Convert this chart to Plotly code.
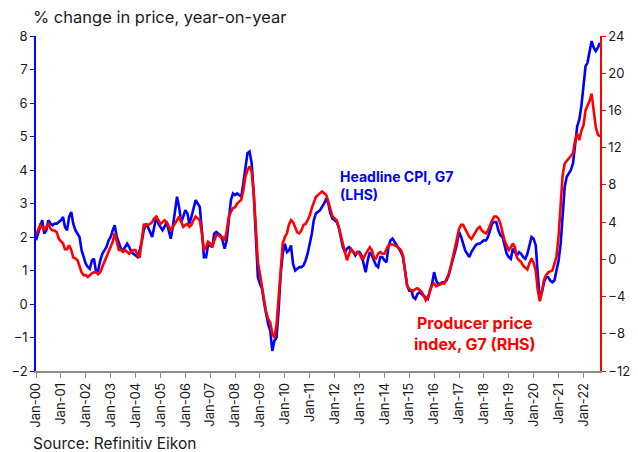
import pandas as pd
import plotly.graph_objects as go

# Monthly, Jan-2000 .. Sep-2022
dates = pd.date_range("2000-01-01", periods=273, freq="MS")

# Headline CPI, G7 (% y/y, LHS)
cpi = [
    1.9, 2.1, 2.3, 2.5, 2.1, 2.2, 2.5, 2.4, 2.35, 2.4, 2.4, 2.45,      # 2000
    2.5, 2.6, 2.3, 2.2, 2.6, 2.75, 2.4, 2.2, 2.1, 2.0, 1.6, 1.4,       # 2001
    1.2, 1.1, 1.05, 1.3, 1.35, 0.95, 1.0, 1.3, 1.5, 1.6, 1.7, 1.9,     # 2002
    2.0, 2.2, 2.35, 2.0, 1.8, 1.65, 1.6, 1.7, 1.8, 1.7, 1.55, 1.5,     # 2003
    1.45, 1.4, 1.6, 1.85, 2.2, 2.4, 2.3, 2.15, 2.0, 2.3, 2.6, 2.4,     # 2004
    2.3, 2.2, 2.3, 2.45, 2.2, 1.95, 2.3, 2.7, 3.2, 2.9, 2.45, 2.6,     # 2005
    2.8, 2.7, 2.4, 2.6, 2.9, 3.1, 3.0, 2.9, 2.2, 1.4, 1.4, 1.75,       # 2006
    1.75, 1.7, 2.1, 2.15, 2.1, 2.05, 1.9, 1.65, 1.9, 2.4, 3.1, 3.3,    # 2007
    3.25, 3.3, 3.25, 3.2, 3.6, 4.1, 4.5, 4.55, 4.2, 3.3, 1.9, 0.8,     # 2008
    0.6, 0.45, 0.05, -0.3, -0.6, -0.8, -1.4, -1.1, -1.0, -0.2, 0.9, 1.5,  # 2009
    1.8, 1.55, 1.6, 1.75, 1.2, 1.0, 1.05, 1.1, 1.1, 1.15, 1.3, 1.5,    # 2010
    1.8, 2.1, 2.5, 2.7, 2.75, 2.8, 2.9, 3.0, 3.15, 3.0, 2.7, 2.55,     # 2011
    2.5, 2.45, 2.3, 2.0, 1.7, 1.55, 1.65, 1.7, 1.6, 1.55, 1.45, 1.55,  # 2012
    1.55, 1.45, 1.2, 0.95, 1.3, 1.55, 1.45, 1.3, 1.15, 1.1, 1.4, 1.4,  # 2013
    1.3, 1.25, 1.7, 1.9, 1.95, 1.85, 1.75, 1.65, 1.55, 1.4, 1.0, 0.55, # 2014
    0.4, 0.4, 0.2, 0.15, 0.3, 0.35, 0.3, 0.25, 0.2, 0.15, 0.4, 0.6,    # 2015
    0.95, 0.7, 0.6, 0.6, 0.65, 0.65, 0.7, 0.85, 1.1, 1.3, 1.55, 1.8,   # 2016
    2.15, 2.0, 1.8, 1.6, 1.5, 1.4, 1.55, 1.65, 1.75, 1.8, 1.8, 1.85,   # 2017
    1.9, 1.9, 2.0, 2.2, 2.4, 2.45, 2.45, 2.2, 2.05, 2.0, 1.7, 1.5,     # 2018
    1.4, 1.35, 1.65, 1.55, 1.45, 1.55, 1.5, 1.4, 1.35, 1.5, 1.75, 2.0, # 2019
    1.95, 1.75, 0.9, 0.15, 0.35, 0.65, 0.8, 0.8, 0.7, 0.65, 0.7, 1.0,  # 2020
    1.3, 1.8, 2.7, 3.5, 3.8, 3.9, 4.0, 4.2, 4.8, 5.3, 5.5, 5.9,        # 2021
    6.5, 7.1, 7.2, 7.5, 7.85, 7.65, 7.55, 7.65, 7.8,                   # 2022
]

# Producer price index, G7 (% y/y, RHS)
ppi = [
    2.6, 3.1, 3.7, 3.5, 3.1, 3.5, 3.8, 3.3, 3.1, 3.1, 2.9, 2.2,        # 2000
    2.0, 1.7, 1.1, 1.1, 1.5, 1.0, 0.2, 0.1, -0.1, -0.8, -1.4, -1.7,    # 2001
    -1.7, -1.9, -1.7, -1.5, -1.4, -1.4, -1.6, -1.4, -0.8, -0.3, 0.2, 0.8,  # 2002
    1.3, 1.9, 2.8, 1.9, 1.0, 1.0, 0.8, 1.0, 0.8, 0.6, 0.8, 1.0,        # 2003
    1.0, 0.4, 0.2, 2.0, 3.7, 3.7, 3.7, 3.8, 4.0, 4.4, 4.6, 4.2,        # 2004
    3.8, 4.0, 4.2, 4.0, 3.5, 3.1, 3.5, 3.8, 4.2, 4.6, 4.0, 3.5,        # 2005
    3.7, 3.8, 3.5, 3.7, 4.2, 4.6, 4.4, 4.2, 2.8, 1.0, 1.3, 1.9,        # 2006
    1.7, 1.3, 2.0, 2.6, 2.6, 2.4, 2.4, 2.0, 3.1, 4.6, 5.1, 5.5,        # 2007
    5.6, 6.0, 6.2, 6.4, 7.4, 8.9, 9.6, 10.0, 9.4, 7.1, 3.5, -0.3,      # 2008
    -1.6, -3.0, -4.4, -5.7, -6.4, -6.8, -8.0, -8.4, -7.0, -4.4, -0.8, 1.7,  # 2009
    2.4, 2.8, 3.7, 4.2, 4.0, 3.5, 2.9, 2.8, 3.1, 3.7, 3.8, 4.2,        # 2010
    4.7, 5.5, 6.2, 6.7, 6.9, 7.1, 7.3, 7.1, 6.9, 6.2, 5.3, 4.6,        # 2011
    4.4, 4.2, 3.5, 2.6, 1.9, 0.8, -0.1, 0.6, 1.1, 0.8, 0.6, 0.8,       # 2012
    0.6, 0.1, 0.1, 0.6, 1.0, 1.3, 1.0, 0.2, 0.1, 0.6, 0.8, 0.6,        # 2013
    0.6, 1.0, 1.5, 1.6, 1.6, 1.5, 1.4, 1.2, 1.0, 0.4, -1.2, -2.8,      # 2014
    -3.2, -3.3, -3.4, -3.2, -3.1, -3.3, -3.5, -3.9, -4.4, -4.1, -3.5, -2.8,  # 2015
    -2.6, -2.9, -2.8, -2.7, -2.6, -2.6, -2.1, -1.6, -0.8, 0.1, 1.0, 2.2,     # 2016
    3.3, 3.7, 3.7, 3.3, 2.8, 2.4, 2.2, 2.6, 2.9, 3.3, 3.5, 3.1,        # 2017
    2.9, 2.8, 3.1, 3.7, 4.2, 4.6, 4.6, 4.4, 3.8, 2.9, 2.0, 1.5,        # 2018
    1.0, 1.3, 1.7, 1.3, 0.2, -0.1, -0.3, -0.7, -0.9, -1.1, -0.4, 0.1,  # 2019
    -0.4, -1.2, -3.3, -4.5, -3.5, -2.2, -1.7, -1.4, -1.3, -1.2, -0.5, 0.3,  # 2020
    2.5, 5.5, 9.0, 10.3, 10.6, 10.8, 11.1, 11.4, 12.8, 13.5, 12.8, 13.8,    # 2021
    14.4, 16.0, 16.5, 17.0, 17.8, 16.2, 14.2, 13.4, 13.2,              # 2022
]

tick_years = list(range(2000, 2023))
tick_vals = [f"{y}-01-01" for y in tick_years]
tick_text = [f"Jan-{y % 100:02d}" for y in tick_years]

FONT = "Inter"
TXT = "#1a1a1a"

fig = go.Figure()
fig.add_trace(go.Scatter(x=dates, y=cpi, mode="lines", name="Headline CPI, G7 (LHS)",
                         line=dict(color="#0000FF", width=2.6), yaxis="y"))
fig.add_trace(go.Scatter(x=dates, y=ppi, mode="lines", name="Producer price index, G7 (RHS)",
                         line=dict(color="#FF0000", width=2.6), yaxis="y2"))

fig.update_layout(
    width=638, height=452,
    margin=dict(l=36, r=38, t=36, b=81, autoexpand=False),
    paper_bgcolor="white", plot_bgcolor="white",
    showlegend=False,
    font=dict(family=FONT, size=13, color=TXT),
    xaxis=dict(
        type="date", range=["2000-01-01", dates[-1]], automargin=False,
        tickmode="array", tickvals=tick_vals, ticktext=tick_text,
        tickangle=-90, showgrid=False, zeroline=False,
        showline=True, linecolor="#8c8c8c", linewidth=1.5,
        ticks="outside", tickcolor="#8c8c8c", ticklen=5, tickwidth=1,
        tickfont=dict(family=FONT, size=13, color=TXT),
    ),
    yaxis=dict(
        range=[-2, 8], dtick=1, showgrid=False, zeroline=False, automargin=False,
        showline=True, linecolor="#0000FF", linewidth=1.5,
        ticks="outside", tickcolor="#0000FF", ticklen=4, tickwidth=1,
        tickfont=dict(family=FONT, size=13, color=TXT),
    ),
    yaxis2=dict(
        range=[-12, 24], dtick=4, overlaying="y", side="right", automargin=False,
        showgrid=False, zeroline=False,
        showline=True, linecolor="#FF0000", linewidth=1.5,
        ticks="outside", tickcolor="#FF0000", ticklen=4, tickwidth=1,
        tickfont=dict(family=FONT, size=13, color=TXT),
    ),
    annotations=[
        dict(text="% change in price, year-on-year", xref="paper", yref="paper",
             x=-0.008, y=1.057, xanchor="left", yanchor="middle", showarrow=False,
             font=dict(family=FONT, size=16.5, color=TXT)),
        dict(text="Source: Refinitiv Eikon", xref="paper", yref="paper",
             x=-0.008, y=-0.215, xanchor="left", yanchor="middle", showarrow=False,
             font=dict(family=FONT, size=15.5, color=TXT)),
        dict(text="<b>Headline CPI, G7<br>(LHS)</b>", xref="paper", yref="paper",
             x=0.536, y=0.555, xanchor="left", yanchor="middle", align="left",
             showarrow=False, font=dict(family=FONT, size=14, color="#0000FF")),
        dict(text="<b>Producer price<br>index, G7 (RHS)</b>", xref="paper", yref="paper",
             x=0.778, y=0.113, xanchor="center", yanchor="middle", align="center",
             showarrow=False, font=dict(family=FONT, size=16, color="#FF0000")),
    ],
)

fig.write_html("out.html", config={"displayModeBar": False},
               post_script="document.body.style.margin='0';")
